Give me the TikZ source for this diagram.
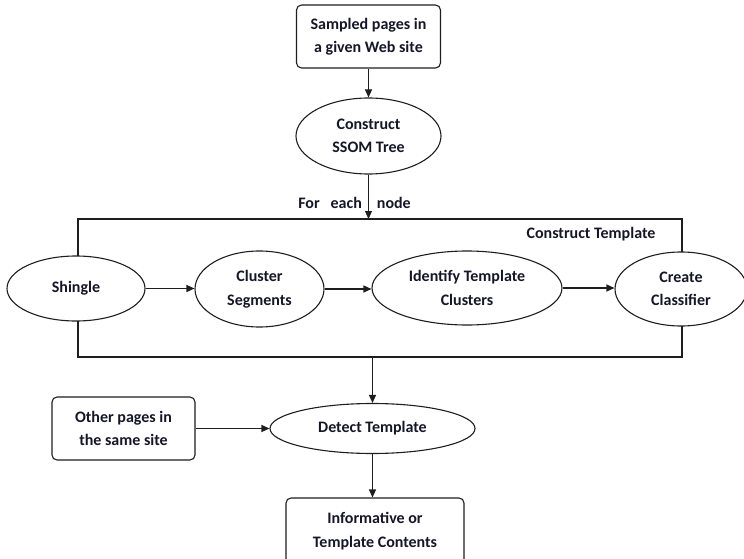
\documentclass[tikz,border=0pt]{standalone}
\usepackage{fontspec}
\setmainfont{Carlito}
\usetikzlibrary{shapes.geometric,arrows.meta}
\definecolor{ink}{RGB}{22,22,40}
\definecolor{edge}{RGB}{30,30,30}
\tikzset{
  lbl/.style={font=\fontsize{16}{23.5}\selectfont\bfseries, text=ink, align=center},
  oval/.style={lbl, ellipse, draw=edge, line width=1.1pt, fill=white, inner sep=0pt},
  rbox/.style={lbl, rectangle, rounded corners=5pt, draw=edge, line width=1.1pt, fill=white, inner sep=0pt},
  flow/.style={draw=edge, line width=1.1pt, -{Triangle[length=8pt,width=7pt]}},
  plain/.style={draw=edge, line width=1.1pt}
}
\begin{document}
\begin{tikzpicture}[x=1pt,y=-1pt]
  \useasboundingbox (0,0) rectangle (744,559);

  % loop frame around the template construction steps
  \draw[plain] (78,219) rectangle (682,357);
  \node[lbl] (frametitle) at (591,234) {Construct Template};

  % nodes
  \node[rbox, minimum width=144pt, minimum height=63pt] (sample) at (368.5,36.5) {Sampled pages in\\a given Web site};
  \node[oval, minimum width=145pt, minimum height=76pt] (ssom) at (368.5,136) {Construct\\SSOM Tree};
  \coordinate (frametop) at (368.5,219);
  \coordinate (framebot) at (372.5,357);
  \node[lbl] (foreach) at (354.5,203) {For\hspace{11pt}each\hspace{15pt}node};

  \node[oval, minimum width=138pt, minimum height=65pt] (shingle) at (76,288.5) {Shingle};
  \node[oval, minimum width=129pt, minimum height=76pt] (cluster) at (259.5,289) {Cluster\\Segments};
  \node[oval, minimum width=190pt, minimum height=74pt] (identify) at (467,288) {Identify Template\\Clusters};
  \node[oval, minimum width=132pt, minimum height=74pt] (classifier) at (681,289) {Create\\Classifier};

  \node[rbox, minimum width=143pt, minimum height=63pt] (other) at (123.5,428.5) {Other pages in\\the same site};
  \node[oval, minimum width=205pt, minimum height=50pt] (detect) at (372.5,428.5) {Detect Template};
  \node[rbox, minimum width=178pt, minimum height=66pt] (result) at (375,531) {Informative or\\Template Contents};

  % connectors
  \draw[flow] (sample.south) -- (sample.south |- ssom.north);
  \draw[flow] (ssom.south) -- (frametop);
  \draw[flow] (shingle.east) -- (shingle.east -| cluster.west);
  \draw[flow] (cluster.east) -- (cluster.east -| identify.west);
  \draw[flow] (identify.east) -- (identify.east -| classifier.west);
  \draw[flow] (framebot) -- (framebot |- detect.north);
  \draw[flow] (other.east) -- (other.east -| detect.west);
  \draw[flow] (detect.south) -- (detect.south |- result.north);
\end{tikzpicture}
\end{document}
